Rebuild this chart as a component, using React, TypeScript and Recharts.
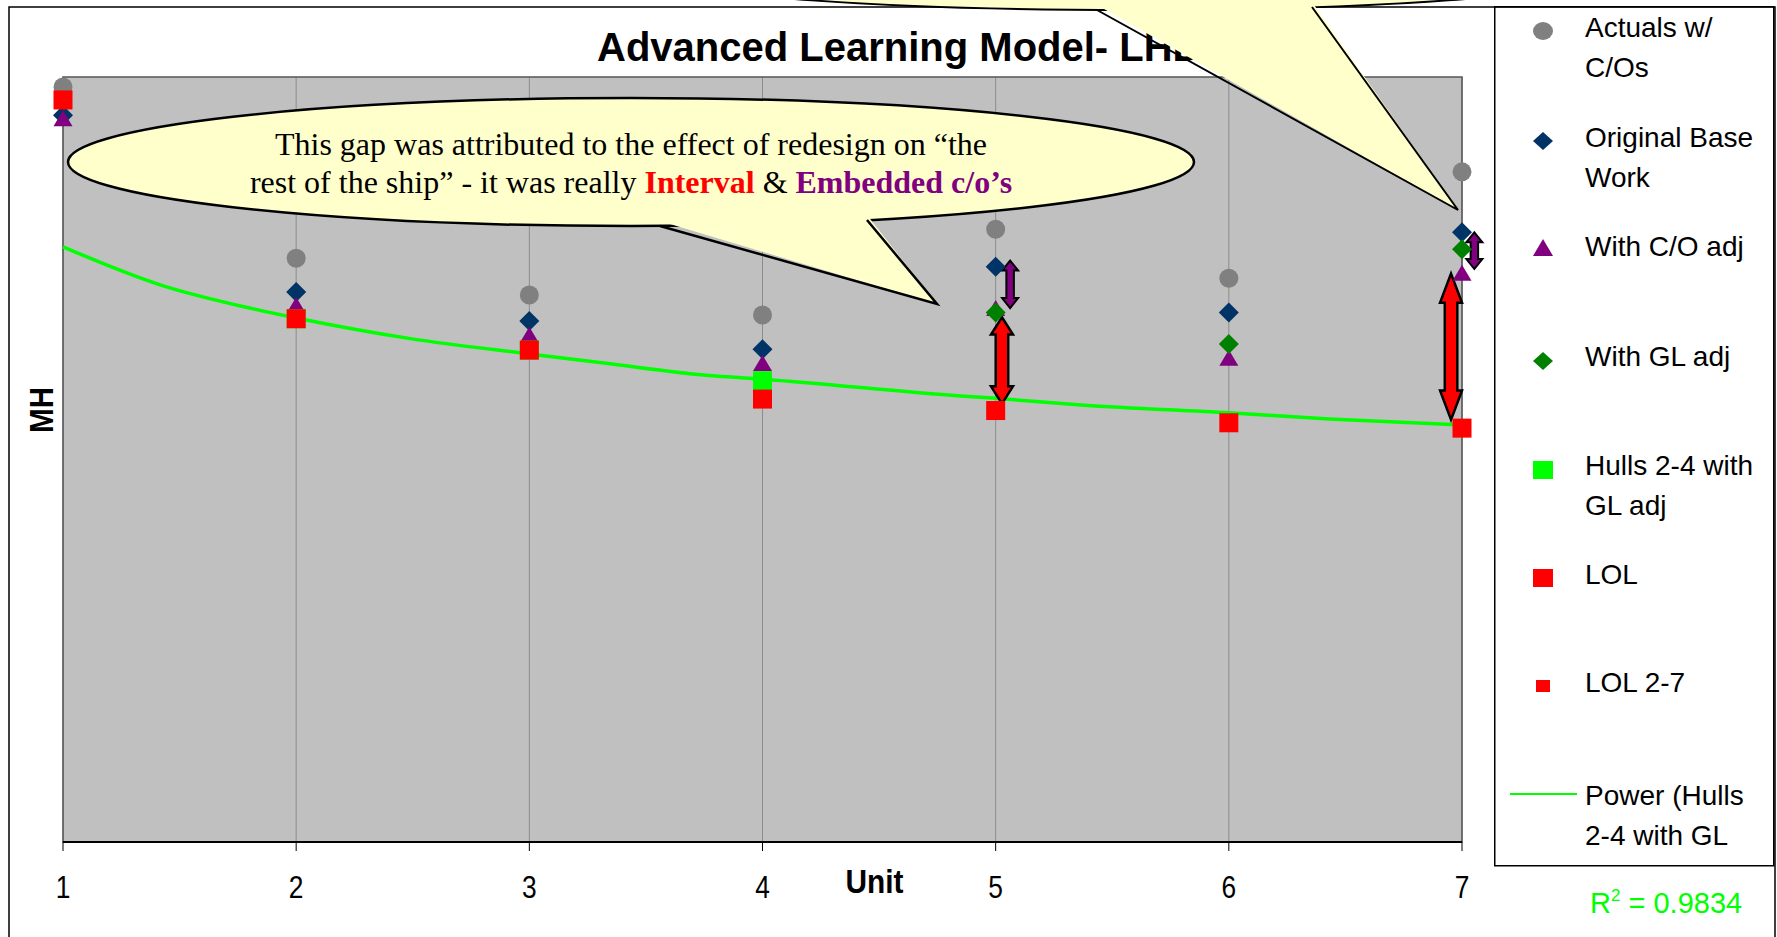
import React from 'react';
import {
  ComposedChart,
  Scatter,
  Line,
  XAxis,
  YAxis,
  CartesianGrid,
  ReferenceArea,
  ReferenceLine,
  Legend,
} from 'recharts';

// values (MH, arbitrary 0-100 scale, no y ticks shown)
const units = [1, 2, 3, 4, 5, 6, 7];
const actualsWithCOs = [98.7, 76.3, 71.5, 68.9, 80.1, 73.7, 87.6];
const originalBaseWork = [95.0, 71.9, 68.1, 64.4, 75.2, 69.2, 79.7];
const withCOAdj = [94.6, 70.2, 66.3, 62.6, 69.8, 63.3, 74.4];
const glAdjUnits = [5, 6, 7];
const withGLAdj = [69.2, 65.1, 77.5];
const hullUnits = [2, 3, 4];
const hullsWithGLAdj = [68.4, 64.3, 60.3];
const lol = [97.0, 68.4, 64.3, 57.9, 56.4, 54.8, 54.1];
const lol27Units = [2, 3, 4, 5, 6, 7];
const lol27 = [68.4, 64.3, 57.9, 56.4, 54.8, 54.1];

// power trendline (Hulls 2-4 with GL adj), read at points along the curve
const trendUnits = [1, 1.42, 1.8, 2, 2.49, 3, 3.32, 3.8, 4, 4.85, 5, 5.38, 6, 6.43, 7];
const trendValues = [77.8, 72.8, 69.8, 68.5, 65.8, 63.8, 62.6, 60.9, 60.5, 58.3, 58.0, 57.1, 56.1, 55.3, 54.5];
const rSquared = '0.9834';

// gap arrows: red = Interval, purple = Embedded c/o's
const intervalArrows = [
  { unit: 5.027, from: 57.3, to: 68.6 },
  { unit: 6.953, from: 55.2, to: 74.3 },
];
const embeddedArrows = [
  { unit: 5.062, from: 69.8, to: 76.0 },
  { unit: 7.053, from: 74.9, to: 79.7 },
];

const xTicks = [1, 2, 3, 4, 5, 6, 7];

const legendNames = [
  ['Actuals w/', 'C/Os'],
  ['Original Base', 'Work'],
  ['With C/O adj'],
  ['With GL adj'],
  ['Hulls 2-4 with', 'GL adj'],
  ['LOL'],
  ['LOL 2-7'],
  ['Power (Hulls', '2-4 with GL'],
];

const zip = (xs: number[], ys: number[]) => xs.map((x, i) => ({ x, y: ys[i] }));

const SANS = '"Liberation Sans", Arial, sans-serif';
const SERIF = '"Liberation Serif", "Times New Roman", serif';

const C = {
  actual: '#808080',
  base: '#003366',
  co: '#800080',
  gl: '#008000',
  hull: '#00FF00',
  lol: '#FF0000',
};

const circle = (color: string, r: number) => (p: any) => (
  <circle cx={p.cx} cy={p.cy} r={r} fill={color} />
);
const diamond = (color: string, h: number) => (p: any) => (
  <path d={`M${p.cx},${p.cy - h}L${p.cx + h},${p.cy}L${p.cx},${p.cy + h}L${p.cx - h},${p.cy}Z`} fill={color} />
);
const triangle = (color: string, w: number, h: number) => (p: any) => (
  <path d={`M${p.cx},${p.cy - h / 2}L${p.cx + w / 2},${p.cy + h / 2}L${p.cx - w / 2},${p.cy + h / 2}Z`} fill={color} />
);
const square = (color: string, s: number) => (p: any) => (
  <rect x={p.cx - s / 2} y={p.cy - s / 2} width={s} height={s} fill={color} />
);

const doubleArrow = (fill: string, shaft: number, head: number, sw: number) => (p: any) => {
  const x = p.x1;
  const top = Math.min(p.y1, p.y2);
  const bot = Math.max(p.y1, p.y2);
  const hl = Math.max(10, (bot - top) * 0.2);
  const d =
    `M${x},${top} L${x + head / 2},${top + hl} L${x + shaft / 2},${top + hl} ` +
    `L${x + shaft / 2},${bot - hl} L${x + head / 2},${bot - hl} L${x},${bot} ` +
    `L${x - head / 2},${bot - hl} L${x - shaft / 2},${bot - hl} L${x - shaft / 2},${top + hl} ` +
    `L${x - head / 2},${top + hl} Z`;
  return <path d={d} fill={fill} stroke="#000" strokeWidth={sw} />;
};

// x-axis tick: slightly condensed, like the original export
const UnitTick = (props: any) => {
  const { x, y, payload } = props;
  return (
    <text
      x={x}
      y={y + 22}
      textAnchor="middle"
      fontFamily={SANS}
      fontSize={31}
      fill="#000"
      transform={`translate(${x} 0) scale(0.85 1) translate(${-x} 0)`}
    >
      {payload.value}
    </text>
  );
};

const LegendBox = () => {
  const markerY = [25, 135, 242, 355, 464, 572, 680, 788];
  const textY = [21, 131, 240, 350, 459, 568, 676, 789];
  const mx = 49;
  const markers = [
    <ellipse key="m0" cx={mx} cy={markerY[0]} rx={10} ry={9} fill={C.actual} />,
    <path key="m1" d={`M${mx},${markerY[1] - 9}L${mx + 10},${markerY[1]}L${mx},${markerY[1] + 9}L${mx - 10},${markerY[1]}Z`} fill={C.base} />,
    <path key="m2" d={`M${mx},${markerY[2] - 9}L${mx + 10},${markerY[2] + 8}L${mx - 10},${markerY[2] + 8}Z`} fill={C.co} />,
    <path key="m3" d={`M${mx},${markerY[3] - 9}L${mx + 10},${markerY[3]}L${mx},${markerY[3] + 9}L${mx - 10},${markerY[3]}Z`} fill={C.gl} />,
    <rect key="m4" x={mx - 10} y={markerY[4] - 9} width={20} height={18} fill={C.hull} />,
    <rect key="m5" x={mx - 10} y={markerY[5] - 9} width={20} height={18} fill={C.lol} />,
    <rect key="m6" x={mx - 7} y={markerY[6] - 6} width={14} height={12} fill={C.lol} />,
    <line key="m7" x1={16} x2={83} y1={markerY[7]} y2={markerY[7]} stroke={C.hull} strokeWidth={2} />,
  ];
  return (
    <svg width={281} height={862} style={{ display: 'block' }}>
      <rect x={0.75} y={0.75} width={279} height={859} fill="#fff" stroke="#000" strokeWidth={1.5} />
      {markers}
      {legendNames.map((lines, i) =>
        lines.map((t, j) => (
          <text
            key={`${i}-${j}`}
            x={91}
            y={textY[i] + j * 40 + 10}
            fontFamily={SANS}
            fontSize={28}
            fill="#000"
          >
            {t}
          </text>
        ))
      )}
    </svg>
  );
};

const UnitLabel = (props: any) => {
  const vb = props.viewBox || { x: 63, y: 842, width: 1399, height: 95 };
  return (
    <text
      x={vb.x + vb.width * 0.58}
      y={vb.y + 51}
      textAnchor="middle"
      fontFamily={SANS}
      fontWeight="bold"
      fontSize={34}
      textLength={58}
      lengthAdjust="spacingAndGlyphs"
      fill="#000"
    >
      Unit
    </text>
  );
};

const Overlay = () => (
  <svg
    width={1777}
    height={937}
    style={{ position: 'absolute', left: 0, top: 0, pointerEvents: 'none' }}
  >
    <rect x={9} y={7} width={1766} height={1000} fill="none" stroke="#000" strokeWidth={1.5} />
    <text x={597} y={61} fontFamily={SANS} fontWeight="bold" fontSize={40} fill="#000">
      Advanced Learning Model- LHD
    </text>
    <text
      x={40.5}
      y={410}
      transform="rotate(-90 40.5 410)"
      textAnchor="middle"
      dominantBaseline="central"
      fontFamily={SANS}
      fontWeight="bold"
      fontSize={34}
      textLength={46}
      lengthAdjust="spacingAndGlyphs"
      fill="#000"
    >
      MH
    </text>
    <text x={1590} y={913} fontFamily={SANS} fontSize={29} fill="#00FF00">
      R<tspan fontSize={17} dy={-12}>2</tspan>
      <tspan dy={12}> = {rSquared}</tspan>
    </text>

    {/* callout about the gap */}
    <ellipse cx={631} cy={162} rx={563} ry={64} fill="#FFFFCC" stroke="#000" strokeWidth={2.5} />
    <polygon points="660,221 937,304 867,215" fill="#FFFFCC" />
    <polyline points="660,226 937,304 867,220" fill="none" stroke="#000" strokeWidth={2.5} />
    <text x={631} y={155} textAnchor="middle" fontFamily={SERIF} fontSize={32} fill="#000">
      This gap was attributed to the effect of redesign on “the
    </text>
    <text x={631} y={193} textAnchor="middle" fontFamily={SERIF} fontSize={32} fill="#000">
      rest of the ship” - it was really{' '}
      <tspan fill="#FF0000" fontWeight="bold">Interval</tspan>
      <tspan> &amp; </tspan>
      <tspan fill="#800080" fontWeight="bold">Embedded c/o’s</tspan>
    </text>

    {/* callout coming from above, pointing at unit 7 */}
    <ellipse cx={1130} cy={-23} rx={450} ry={33} fill="#FFFFCC" stroke="#000" strokeWidth={2} />
    <polygon points="1097,5 1458,210 1312,2" fill="#FFFFCC" />
    <polyline points="1097,10 1458,210 1312,7" fill="none" stroke="#000" strokeWidth={2} />
  </svg>
);

export default function App() {
  return (
    <div
      style={{
        position: 'absolute',
        left: 0,
        top: 0,
        width: 1777,
        height: 937,
        overflow: 'hidden',
        background: '#fff',
      }}
    >
      <ComposedChart
        width={1777}
        height={937}
        margin={{ top: 77, right: 315, bottom: 0, left: 63 }}
      >
        <CartesianGrid horizontal={false} vertical stroke="#8c8c8c" strokeWidth={1} fill="#C0C0C0" fillOpacity={1} />
        <ReferenceArea x1={1} x2={7} y1={0} y2={100} fill="none" stroke="#555" strokeWidth={1.5} />
        <XAxis
          type="number"
          dataKey="x"
          domain={[1, 7]}
          ticks={xTicks}
          interval={0}
          height={95}
          axisLine={{ stroke: '#000', strokeWidth: 2 }}
          tickLine={{ stroke: '#000', strokeWidth: 1 }}
          tickSize={9}
          tickMargin={25}
          tick={<UnitTick />}
          label={<UnitLabel />}
        />
        <YAxis
          type="number"
          dataKey="y"
          domain={[0, 100]}
          width={0}
          tick={false}
          tickLine={false}
          axisLine={{ stroke: '#000', strokeWidth: 1.5 }}
        />
        <Legend
          layout="vertical"
          align="center"
          verticalAlign="middle"
          content={() => <LegendBox />}
          wrapperStyle={{ position: 'absolute', left: 1494, top: 6, width: 281, height: 862 }}
        />
        <Scatter name="Actuals w/ C/Os" data={zip(units, actualsWithCOs)} shape={circle(C.actual, 9.5)} isAnimationActive={false} />
        <Scatter name="Original Base Work" data={zip(units, originalBaseWork)} shape={diamond(C.base, 10)} isAnimationActive={false} />
        <Scatter name="With C/O adj" data={zip(units, withCOAdj)} shape={triangle(C.co, 19, 16)} isAnimationActive={false} />
        <Scatter name="With GL adj" data={zip(glAdjUnits, withGLAdj)} shape={diamond(C.gl, 10)} isAnimationActive={false} />
        <Scatter name="Hulls 2-4 with GL adj" data={zip(hullUnits, hullsWithGLAdj)} shape={square(C.hull, 19)} isAnimationActive={false} />
        <Scatter name="LOL" data={zip(units, lol)} shape={square(C.lol, 19)} isAnimationActive={false} />
        <Scatter name="LOL 2-7" data={zip(lol27Units, lol27)} shape={square(C.lol, 12)} isAnimationActive={false} />
        <Line
          name="Power (Hulls 2-4 with GL adj)"
          data={zip(trendUnits, trendValues)}
          dataKey="y"
          type="monotone"
          stroke="#00FF00"
          strokeWidth={3.5}
          dot={false}
          activeDot={false}
          isAnimationActive={false}
        />
        {intervalArrows.map((a, i) => (
          <ReferenceLine
            key={`int-${i}`}
            segment={[{ x: a.unit, y: a.from }, { x: a.unit, y: a.to }]}
            ifOverflow="visible"
            shape={doubleArrow('#FF0000', 12.5, 22, 2.5)}
          />
        ))}
        {embeddedArrows.map((a, i) => (
          <ReferenceLine
            key={`emb-${i}`}
            segment={[{ x: a.unit, y: a.from }, { x: a.unit, y: a.to }]}
            ifOverflow="visible"
            shape={doubleArrow('#800080', 7.5, 16, 2)}
          />
        ))}
      </ComposedChart>
      <Overlay />
    </div>
  );
}
